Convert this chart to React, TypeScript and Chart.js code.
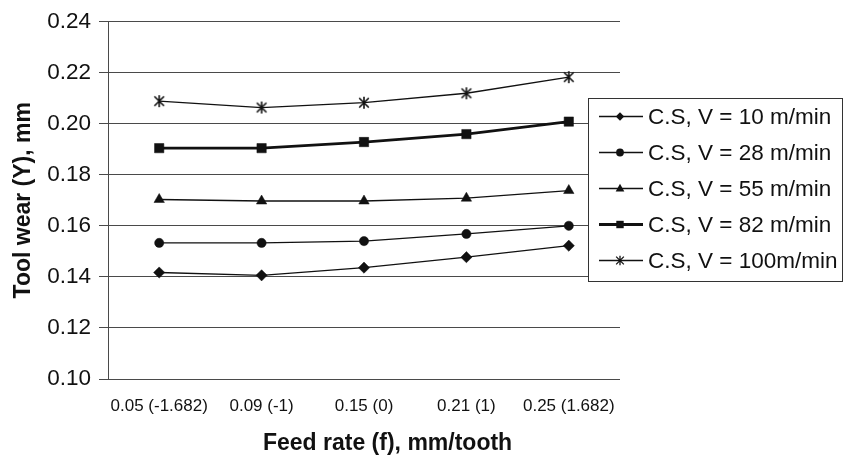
import React, { useEffect, useRef } from 'react';
import { Chart, registerables } from 'chart.js';

Chart.register(...registerables);

const categories = ['0.05 (-1.682)', '0.09 (-1)', '0.15 (0)', '0.21 (1)', '0.25 (1.682)'];
const v10 = [0.1417, 0.1406, 0.1436, 0.1477, 0.1522];
const v28 = [0.1533, 0.1533, 0.1540, 0.1568, 0.1600];
const v55 = [0.1703, 0.1697, 0.1697, 0.1708, 0.1738];
const v82 = [0.1904, 0.1904, 0.1928, 0.1959, 0.2008];
const v100 = [0.2088, 0.2063, 0.2082, 0.2119, 0.2182];
const seriesLabels = [
  'C.S, V = 10 m/min',
  'C.S, V = 28 m/min',
  'C.S, V = 55 m/min',
  'C.S, V = 82 m/min',
  'C.S, V = 100m/min',
];
const yMin = 0.1;
const yMax = 0.24;
const yStep = 0.02;
const yTitle = 'Tool wear (Y), mm';
const xTitle = 'Feed rate (f), mm/tooth';

const FONT = '"Liberation Sans", Arial, Helvetica, sans-serif';
const INK = '#111';
const GRID = '#4a4a4a';

function makeStar(size: number, lw: number): HTMLCanvasElement {
  const c = document.createElement('canvas');
  c.width = size;
  c.height = size;
  const ctx = c.getContext('2d')!;
  const h = size / 2;
  const r = h - 1;
  ctx.strokeStyle = INK;
  ctx.lineWidth = lw;
  ctx.beginPath();
  ctx.moveTo(h, h - r);
  ctx.lineTo(h, h + r);
  const d = r * 0.8;
  ctx.moveTo(h - d, h - d);
  ctx.lineTo(h + d, h + d);
  ctx.moveTo(h + d, h - d);
  ctx.lineTo(h - d, h + d);
  ctx.stroke();
  return c;
}

function drawMarker(ctx: CanvasRenderingContext2D, kind: string, x: number, y: number, r: number) {
  ctx.save();
  ctx.fillStyle = INK;
  ctx.strokeStyle = INK;
  ctx.lineWidth = 1.3;
  ctx.beginPath();
  if (kind === 'diamond') {
    ctx.moveTo(x, y - r);
    ctx.lineTo(x + r, y);
    ctx.lineTo(x, y + r);
    ctx.lineTo(x - r, y);
    ctx.closePath();
    ctx.fill();
  } else if (kind === 'circle') {
    ctx.arc(x, y, r, 0, Math.PI * 2);
    ctx.fill();
  } else if (kind === 'triangle') {
    ctx.moveTo(x, y - r);
    ctx.lineTo(x + r * 0.9, y + r * 0.6);
    ctx.lineTo(x - r * 0.9, y + r * 0.6);
    ctx.closePath();
    ctx.fill();
  } else if (kind === 'square') {
    ctx.rect(x - r, y - r, 2 * r, 2 * r);
    ctx.fill();
  } else if (kind === 'star') {
    ctx.moveTo(x, y - r);
    ctx.lineTo(x, y + r);
    const d = r * 0.8;
    ctx.moveTo(x - d, y - d);
    ctx.lineTo(x + d, y + d);
    ctx.moveTo(x + d, y - d);
    ctx.lineTo(x - d, y + d);
    ctx.stroke();
  }
  ctx.restore();
}

const markerKinds = ['diamond', 'circle', 'triangle', 'square', 'star'];
const legendMarkerSize = [4.2, 3.9, 4.8, 3.7, 4.8];

const overlayPlugin = {
  id: 'overlay',
  afterDraw(chart: any) {
    const ctx: CanvasRenderingContext2D = chart.ctx;
    const area = chart.chartArea;
    // x axis title
    ctx.save();
    ctx.font = `bold 23px ${FONT}`;
    ctx.fillStyle = INK;
    ctx.textAlign = 'center';
    ctx.textBaseline = 'middle';
    ctx.fillText(xTitle, area.left + (area.right - area.left) * 0.546, 444);
    ctx.restore();

    // legend box
    const bx = 588.5;
    const by = 98.5;
    const bw = 254;
    const bh = 183;
    ctx.save();
    ctx.fillStyle = '#fff';
    ctx.fillRect(bx, by, bw, bh);
    ctx.strokeStyle = '#333';
    ctx.lineWidth = 1;
    ctx.strokeRect(bx, by, bw, bh);
    chart.data.datasets.forEach((ds: any, i: number) => {
      const cy = 116.5 + i * 36;
      ctx.strokeStyle = INK;
      ctx.lineWidth = ds.borderWidth;
      ctx.beginPath();
      ctx.moveTo(599, cy);
      ctx.lineTo(643, cy);
      ctx.stroke();
      drawMarker(ctx, markerKinds[i], 620, cy, legendMarkerSize[i]);
      ctx.font = `22.5px ${FONT}`;
      ctx.fillStyle = INK;
      ctx.textAlign = 'left';
      ctx.textBaseline = 'middle';
      ctx.fillText(ds.label, 648, cy + 1);
    });
    ctx.restore();
  },
};

export default function App() {
  const ref = useRef<HTMLCanvasElement | null>(null);

  useEffect(() => {
    if (!ref.current) return;
    const star = makeStar(14, 1.6);
    const values = [v10, v28, v55, v82, v100];
    const styles: any[] = ['rectRot', 'circle', 'triangle', 'rect', star];
    const radii = [5.6, 4.6, 6, 6.6, 6];
    const widths = [1.3, 1.3, 1.3, 2.8, 1.3];
    const chart = new Chart(ref.current, {
      type: 'line',
      data: {
        labels: categories,
        datasets: values.map((vals, i) => ({
          label: seriesLabels[i],
          data: vals,
          borderColor: INK,
          backgroundColor: INK,
          borderWidth: widths[i],
          pointStyle: styles[i],
          pointRadius: radii[i],
          pointBorderWidth: 0.5,
          pointBackgroundColor: INK,
          pointBorderColor: INK,
          tension: 0,
          fill: false,
        })),
      },
      options: {
        responsive: false,
        animation: false,
        events: [],
        layout: { padding: { left: 0, right: 225, top: 19, bottom: 0 } },
        plugins: {
          legend: { display: false },
          tooltip: { enabled: false },
          title: { display: false },
        },
        scales: {
          x: {
            type: 'category',
            offset: true,
            grid: { display: false, drawTicks: false },
            border: { display: false },
            ticks: {
              color: INK,
              font: { family: FONT, size: 17 },
              padding: 17,
              maxRotation: 0,
              autoSkip: false,
            },
            afterFit: (scale: any) => {
              scale.height = 78;
            },
          },
          y: {
            min: yMin,
            max: yMax,
            grid: {
              color: GRID,
              lineWidth: 1,
              tickLength: 9,
              drawTicks: true,
            },
            border: { display: true, color: GRID, width: 1 },
            ticks: {
              stepSize: yStep,
              color: INK,
              font: { family: FONT, size: 22.5 },
              padding: 8,
              callback: (v: any) => Number(v).toFixed(2),
            },
            title: {
              display: true,
              text: yTitle,
              color: INK,
              font: { family: FONT, size: 23, weight: 'bold' },
              padding: { top: 10, bottom: 0 },
            },
            afterFit: (scale: any) => {
              scale.width = 108;
            },
          },
        },
      },
      plugins: [overlayPlugin],
    } as any);
    return () => chart.destroy();
  }, []);

  return (
    <div style={{ position: 'fixed', left: 0, top: 0, width: 845, height: 457, background: '#fff' }}>
      <canvas ref={ref} width={845} height={457} style={{ width: 845, height: 457, display: 'block' }} />
    </div>
  );
}
